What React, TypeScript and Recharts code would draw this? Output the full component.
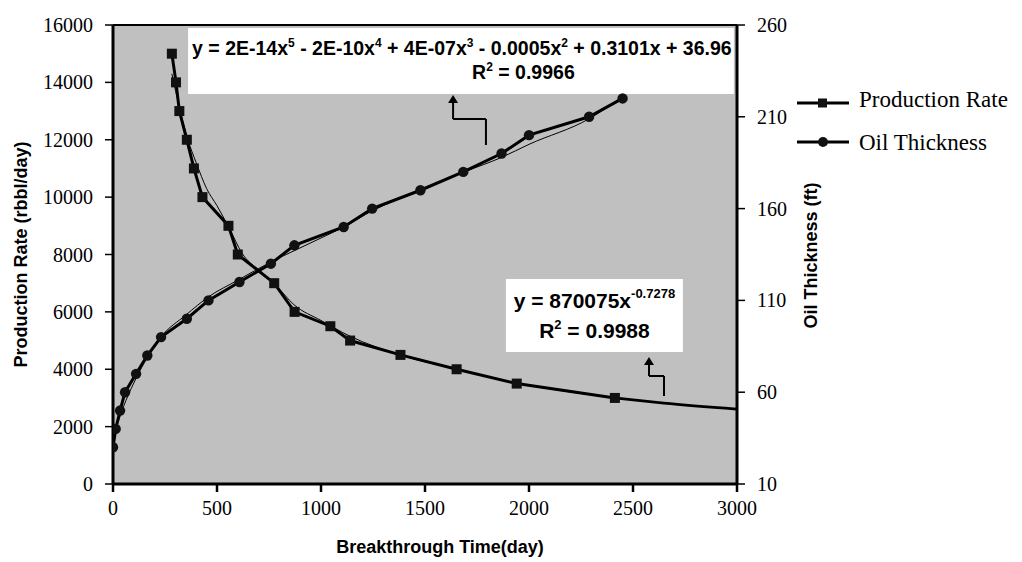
import React from 'react';
import {
  LineChart,
  Line,
  XAxis,
  YAxis,
  CartesianGrid,
  ReferenceArea,
  ReferenceLine,
  ReferenceDot,
  Legend,
  Label,
} from 'recharts';

// ---- data ----
const prodTime = [283, 303, 319, 355, 389, 430, 555, 600, 775, 873, 1045, 1140, 1382, 1652, 1941, 2413];
const prodRate = [15000, 14000, 13000, 12000, 11000, 10000, 9000, 8000, 7000, 6000, 5500, 5000, 4500, 4000, 3500, 3000];

const oilTime = [0, 13, 34, 58, 111, 165, 231, 355, 459, 608, 759, 872, 1109, 1246, 1478, 1684, 1868, 2000, 2289, 2450];
const oilThick = [30, 40, 50, 60, 70, 80, 90, 100, 110, 120, 130, 140, 150, 160, 170, 180, 190, 200, 210, 220];

// thin trend lines
const prodTrendTime = [283, 320, 360, 400, 450, 500, 560, 620, 700, 780, 870, 1000, 1140, 1380, 1650, 1940, 2413];
const prodTrendRate = [14300, 13100, 12000, 11200, 10300, 9700, 8900, 8050, 7450, 6950, 6250, 5700, 5150, 4500, 4000, 3520, 3000];
// forecast part of the power trend line
const prodExtTime = [2413, 2648, 3000];
const prodExtRate = [3000, 2820, 2610];

const oilTrendTime = [0, 25, 50, 100, 150, 230, 350, 460, 600, 760, 870, 1000, 1110, 1250, 1480, 1690, 1870, 2000, 2290, 2450];
const oilTrendThick = [37, 44, 52, 65, 76, 90, 102, 112, 121, 131, 137, 144, 150, 159, 170, 180, 188, 195, 209, 221];

const xTicks = [0, 500, 1000, 1500, 2000, 2500, 3000];
const leftTicks = [0, 2000, 4000, 6000, 8000, 10000, 12000, 14000, 16000];
const rightTicks = [10, 60, 110, 160, 210, 260];

// annotation anchors (data coordinates, left axis)
const polyBox = { x1: 361, x2: 2985, y1: 13595, y2: 15895 };
const powBox = { x1: 1889, x2: 2740, y1: 4600, y2: 7146 };
const polyArrow = [
  { x: 1793, y: 11817 },
  { x: 1793, y: 12723 },
  { x: 1635, y: 12723 },
  { x: 1635, y: 13420 },
];
const polyArrowTip = { x: 1635, y: 13560 };
const powArrow = [
  { x: 2649, y: 3068 },
  { x: 2649, y: 3765 },
  { x: 2577, y: 3765 },
  { x: 2577, y: 4280 },
];
const powArrowTip = { x: 2577, y: 4427 };

const pts = (xs: number[], ys: number[]) => xs.map((x, i) => ({ x, y: ys[i] }));

const prodData = pts(prodTime, prodRate);
const oilData = pts(oilTime, oilThick);
const prodTrend = pts(prodTrendTime, prodTrendRate);
const prodExt = pts(prodExtTime, prodExtRate);
const oilTrend = pts(oilTrendTime, oilTrendThick);

const SERIF = "'Liberation Serif', 'Times New Roman', Times, serif";
const SANS = "'Liberation Sans', Arial, sans-serif";

const XTick = (p: any) => (
  <text x={p.x} y={p.y} dy="0.71em" textAnchor="middle" fontFamily={SERIF} fontSize={20} fill="#000">
    {p.payload.value}
  </text>
);
const LeftTick = (p: any) => (
  <text x={p.x} y={p.y} dy="0.35em" textAnchor="end" fontFamily={SERIF} fontSize={20} fill="#000">
    {p.payload.value}
  </text>
);
const RightTick = (p: any) => (
  <text x={p.x} y={p.y} dy="0.35em" textAnchor="start" fontFamily={SERIF} fontSize={20} fill="#000">
    {p.payload.value}
  </text>
);

const SquareDot = (p: any) => {
  if (p.cx == null || p.cy == null) return <g key={`sq-${p.index}`} />;
  return <rect key={`sq-${p.index}`} x={p.cx - 5} y={p.cy - 5} width={10} height={10} fill="#111" />;
};
const CircleDot = (p: any) => {
  if (p.cx == null || p.cy == null) return <g key={`ci-${p.index}`} />;
  return <circle key={`ci-${p.index}`} cx={p.cx} cy={p.cy} r={5.2} fill="#111" />;
};

const ArrowHead = (p: any) => (
  <path d={`M${p.cx},${p.cy} L${p.cx - 5},${p.cy + 8} L${p.cx + 5},${p.cy + 8} Z`} fill="#000" />
);

const PolyText = (props: any) => {
  const vb = props.viewBox || {};
  const x = vb.x;
  const y = vb.y;
  return (
    <g fontFamily={SANS} fontWeight="bold" fill="#000">
      <text x={x + 4} y={y + 27} fontSize={19.5}>
        y = 2E-14x<tspan fontSize={12} dy={-8}>5</tspan>
        <tspan dy={8}> - 2E-10x</tspan>
        <tspan fontSize={12} dy={-8}>4</tspan>
        <tspan dy={8}> + 4E-07x</tspan>
        <tspan fontSize={12} dy={-8}>3</tspan>
        <tspan dy={8}> - 0.0005x</tspan>
        <tspan fontSize={12} dy={-8}>2</tspan>
        <tspan dy={8}> + 0.3101x + 36.96</tspan>
      </text>
      <text x={x + 284} y={y + 51} fontSize={19.5}>
        R<tspan fontSize={12} dy={-8}>2</tspan>
        <tspan dy={8}> = 0.9966</tspan>
      </text>
    </g>
  );
};

const PowText = (props: any) => {
  const vb = props.viewBox || {};
  const cx = vb.x + vb.width / 2;
  const y = vb.y;
  return (
    <g fontFamily={SANS} fontWeight="bold" fill="#000">
      <text x={cx} y={y + 29} fontSize={21} textAnchor="middle">
        y = 870075x<tspan fontSize={13} dy={-10}>-0.7278</tspan>
      </text>
      <text x={cx} y={y + 59} fontSize={21} textAnchor="middle">
        R<tspan fontSize={13} dy={-9}>2</tspan>
        <tspan dy={9}> = 0.9988</tspan>
      </text>
    </g>
  );
};

const XTitle = (props: any) => {
  const vb = props.viewBox || {};
  return (
    <text
      x={vb.x + vb.width / 2 + 15}
      y={vb.y + 69}
      textAnchor="middle"
      fontFamily={SANS}
      fontWeight="bold"
      fontSize={18}
      fill="#000"
    >
      Breakthrough Time(day)
    </text>
  );
};

const LeftTitle = (props: any) => {
  const vb = props.viewBox || {};
  const x = vb.x + 19;
  const y = vb.y + vb.height / 2;
  return (
    <text
      x={x}
      y={y}
      transform={`rotate(-90, ${x}, ${y})`}
      textAnchor="middle"
      fontFamily={SANS}
      fontWeight="bold"
      fontSize={18}
      fill="#000"
    >
      Production Rate (rbbl/day)
    </text>
  );
};

const RightTitle = (props: any) => {
  const vb = props.viewBox || {};
  const x = vb.x + 80;
  const y = vb.y + vb.height / 2 + 1;
  return (
    <text
      x={x}
      y={y}
      transform={`rotate(-90, ${x}, ${y})`}
      textAnchor="middle"
      fontFamily={SANS}
      fontWeight="bold"
      fontSize={18}
      fill="#000"
    >
      Oil Thickness (ft)
    </text>
  );
};

const LegendContent = () => (
  <svg width={225} height={80} style={{ display: 'block' }}>
    <line x1={0} y1={15} x2={52} y2={15} stroke="#000" strokeWidth={3} />
    <rect x={21} y={10.5} width={9} height={9} fill="#111" />
    <text x={62} y={19} fontFamily={SERIF} fontSize={23} fill="#000">
      Production Rate
    </text>
    <line x1={0} y1={54} x2={52} y2={54} stroke="#000" strokeWidth={3} />
    <circle cx={26} cy={54} r={5} fill="#111" />
    <text x={62} y={62} fontFamily={SERIF} fontSize={23} fill="#000">
      Oil Thickness
    </text>
  </svg>
);

export default function App() {
  return (
    <div style={{ width: 1014, height: 554 }}>
      <LineChart width={1014} height={554} margin={{ top: 17, right: 185, bottom: 8, left: 0 }}>
        <CartesianGrid yAxisId="left" fill="#c0c0c0" fillOpacity={1} horizontal={false} vertical={false} />
        <XAxis
          type="number"
          dataKey="x"
          domain={[0, 3000]}
          ticks={xTicks}
          allowDataOverflow
          height={70}
          tickSize={8}
          tickMargin={9}
          tick={XTick}
          tickLine={{ stroke: '#000', strokeWidth: 2.5 }}
          axisLine={{ stroke: '#000', strokeWidth: 3 }}
        >
          <Label content={XTitle} />
        </XAxis>
        <YAxis
          yAxisId="left"
          type="number"
          domain={[0, 16000]}
          ticks={leftTicks}
          allowDataOverflow
          width={105}
          tickSize={8}
          tickMargin={12}
          tick={LeftTick}
          tickLine={{ stroke: '#000', strokeWidth: 1.5 }}
          axisLine={{ stroke: '#000', strokeWidth: 3 }}
        >
          <Label content={LeftTitle} />
        </YAxis>
        <YAxis
          yAxisId="right"
          orientation="right"
          type="number"
          domain={[10, 260]}
          ticks={rightTicks}
          allowDataOverflow
          width={100}
          tickSize={8}
          tickMargin={12}
          tick={RightTick}
          tickLine={{ stroke: '#000', strokeWidth: 1.5 }}
          axisLine={{ stroke: '#000', strokeWidth: 3 }}
        >
          <Label content={RightTitle} />
        </YAxis>

        <ReferenceLine yAxisId="left" y={16000} stroke="#000" strokeWidth={2} />

        {/* thin trend lines */}
        <Line
          data={prodTrend}
          dataKey="y"
          yAxisId="left"
          type="monotone"
          stroke="#000"
          strokeWidth={1}
          dot={false}
          activeDot={false}
          isAnimationActive={false}
          legendType="none"
        />
        <Line
          data={oilTrend}
          dataKey="y"
          yAxisId="right"
          type="monotone"
          stroke="#000"
          strokeWidth={1}
          dot={false}
          activeDot={false}
          isAnimationActive={false}
          legendType="none"
        />
        <Line
          data={prodExt}
          dataKey="y"
          yAxisId="left"
          type="monotone"
          stroke="#000"
          strokeWidth={2.6}
          dot={false}
          activeDot={false}
          isAnimationActive={false}
          legendType="none"
        />

        {/* data series */}
        <Line
          name="Production Rate"
          data={prodData}
          dataKey="y"
          yAxisId="left"
          type="linear"
          stroke="#000"
          strokeWidth={3}
          dot={SquareDot}
          activeDot={false}
          isAnimationActive={false}
        />
        <Line
          name="Oil Thickness"
          data={oilData}
          dataKey="y"
          yAxisId="right"
          type="linear"
          stroke="#000"
          strokeWidth={3}
          dot={CircleDot}
          activeDot={false}
          isAnimationActive={false}
        />

        {/* trendline labels */}
        <ReferenceArea yAxisId="left" {...polyBox} fill="#fff" fillOpacity={1} stroke="none">
          <Label content={PolyText} />
        </ReferenceArea>
        <ReferenceArea yAxisId="left" {...powBox} fill="#fff" fillOpacity={1} stroke="none">
          <Label content={PowText} />
        </ReferenceArea>

        {/* arrows */}
        {polyArrow.slice(0, -1).map((p, i) => (
          <ReferenceLine
            key={`pa${i}`}
            yAxisId="left"
            segment={[p, polyArrow[i + 1]]}
            stroke="#000"
            strokeWidth={2}
          />
        ))}
        <ReferenceDot yAxisId="left" x={polyArrowTip.x} y={polyArrowTip.y} shape={ArrowHead} />
        {powArrow.slice(0, -1).map((p, i) => (
          <ReferenceLine
            key={`wa${i}`}
            yAxisId="left"
            segment={[p, powArrow[i + 1]]}
            stroke="#000"
            strokeWidth={2}
          />
        ))}
        <ReferenceDot yAxisId="left" x={powArrowTip.x} y={powArrowTip.y} shape={ArrowHead} />

        <Legend
          layout="vertical"
          align="center"
          verticalAlign="middle"
          wrapperStyle={{ left: 789, top: 80, width: 225, height: 80 }}
          content={LegendContent}
        />
      </LineChart>
    </div>
  );
}
